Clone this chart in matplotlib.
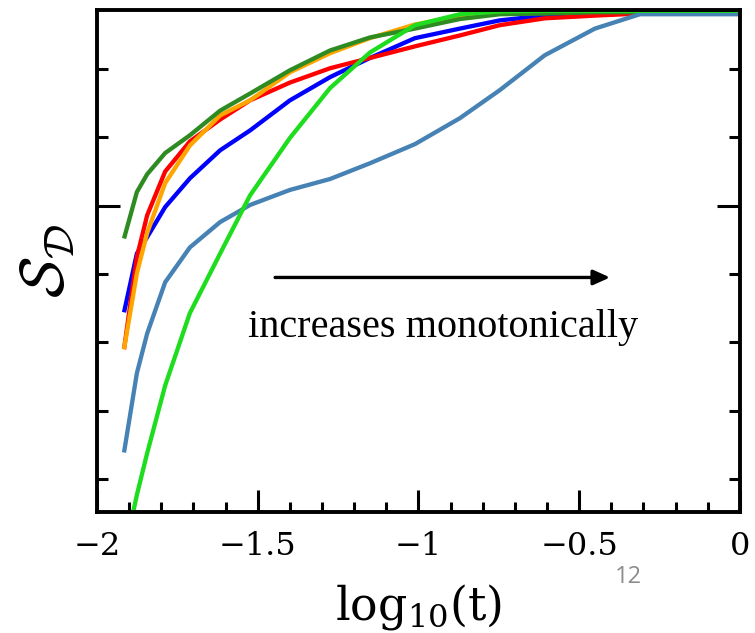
import matplotlib
matplotlib.use("Agg")
import matplotlib.pyplot as plt
from matplotlib.ticker import MultipleLocator, FixedLocator

# log10(t) sample points, shared by all curves
log_t = [-1.916, -1.876, -1.844, -1.788, -1.711, -1.617, -1.524, -1.400, -1.275,
         -1.151, -1.011, -0.871, -0.747, -0.607, -0.451, -0.311, -0.149, 0.000]

# S_D curves (arbitrary units)
s_steel = [0.139, 0.255, 0.313, 0.388, 0.439, 0.476, 0.501, 0.523, 0.539,
           0.562, 0.590, 0.628, 0.669, 0.720, 0.759, 0.780, 0.780, 0.780]
s_lime = [-0.011, 0.077, 0.138, 0.237, 0.343, 0.430, 0.515, 0.599, 0.672,
          0.724, 0.764, 0.780, 0.784, 0.785, 0.785, 0.785, 0.785, 0.785]
s_dkgreen = [0.452, 0.520, 0.546, 0.577, 0.603, 0.639, 0.664, 0.698, 0.727,
             0.746, 0.759, 0.773, 0.780, 0.781, 0.783, 0.783, 0.784, 0.784]
s_orange = [0.290, 0.401, 0.460, 0.533, 0.588, 0.632, 0.654, 0.695, 0.723,
            0.745, 0.765, 0.777, 0.781, 0.783, 0.784, 0.784, 0.784, 0.784]
s_red = [0.290, 0.425, 0.486, 0.550, 0.594, 0.626, 0.654, 0.680, 0.701,
         0.716, 0.733, 0.749, 0.764, 0.774, 0.778, 0.781, 0.783, 0.783]
s_blue = [0.344, 0.430, 0.454, 0.498, 0.540, 0.581, 0.610, 0.654, 0.688,
          0.716, 0.745, 0.759, 0.771, 0.778, 0.781, 0.783, 0.783, 0.783]

x_ticks = [-2, -1.5, -1, -0.5, 0]
x_ticklabels = ["\u22122", "\u22121.5", "\u22121", "\u22120.5", "0"]

fig = plt.figure(figsize=(7.55, 6.33), dpi=100)
ax = fig.add_axes([0.1285, 0.1912, 0.8515, 0.7928])

lw = 3.1
ax.plot(log_t, s_blue, color="#0000FF", lw=lw, solid_capstyle="butt")
ax.plot(log_t, s_red, color="#FF0000", lw=lw, solid_capstyle="butt")
ax.plot(log_t, s_orange, color="#FFA500", lw=lw, solid_capstyle="butt")
ax.plot(log_t, s_dkgreen, color="#2E8B22", lw=lw, solid_capstyle="butt")
ax.plot(log_t, s_steel, color="#4682B4", lw=lw, solid_capstyle="butt")
ax.plot(log_t, s_lime, color="#1EDC1E", lw=lw, solid_capstyle="butt")

ax.set_xlim(-2, 0)
ax.set_ylim(0.052, 0.786)

# arrow + caption
ax.annotate("", xy=(-0.404, 0.395), xytext=(-1.446, 0.395),
            arrowprops=dict(arrowstyle="-|>,head_length=1.0,head_width=0.45",
                            color="black", lw=2.4, shrinkA=0, shrinkB=0))
ax.text(-0.924, 0.322, "increases monotonically", ha="center", va="center",
        fontsize=29, family="Liberation Serif")

# spines / ticks
for sp in ax.spines.values():
    sp.set_linewidth(2.8)

ax.xaxis.set_major_locator(FixedLocator(x_ticks))
ax.set_xticklabels(x_ticklabels, family="DejaVu Serif", fontsize=23)
ax.xaxis.set_minor_locator(MultipleLocator(0.1))
ax.yaxis.set_major_locator(FixedLocator([0.5]))
ax.yaxis.set_minor_locator(MultipleLocator(0.1))
ax.tick_params(axis="x", which="major", direction="in", length=16, width=2.2,
               top=False, pad=14)
ax.tick_params(axis="x", which="minor", direction="in", length=7.5, width=2.2,
               top=False)
ax.tick_params(axis="y", which="both", direction="in", width=2.2,
               left=True, right=True, labelleft=False)
ax.tick_params(axis="y", which="major", length=16.5)
ax.tick_params(axis="y", which="minor", length=8)

ax.set_xlabel(r"log$_{10}$(t)", family="DejaVu Serif", fontsize=33,
              math_fontfamily="dejavuserif", labelpad=14)
ax.set_ylabel(r"$\mathcal{S}_{\mathcal{D}}$", fontsize=44,
              math_fontfamily="cm", labelpad=14)

# slide number
fig.text(0.832, 0.088, "12", color="#8C8C8C", fontsize=17,
         family="Open Sans", ha="center", va="center")

fig.savefig("out.png", dpi=100)
